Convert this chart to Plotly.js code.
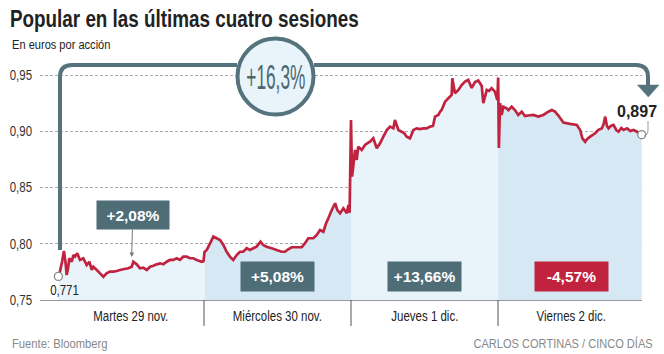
<!DOCTYPE html>
<html>
<head>
<meta charset="utf-8">
<script src="https://cdn.plot.ly/plotly-3.0.1.min.js"></script>
<style>
html,body{margin:0;padding:0;background:#fff;}
#chart{width:664px;height:354px;}
</style>
</head>
<body>
<div id="chart"></div>
<script>
// ---- DATA (hours of the session, price in euros) ----
const days = ['Martes 29 nov.', 'Miércoles 30 nov.', 'Jueves 1 dic.', 'Viernes 2 dic.'];
const dayChanges = ['+2,08%', '+5,08%', '+13,66%', '-4,57%'];
const totalChange = '+16,3%';
const firstLabel = '0,771';
const lastLabel = '0,897';
const yTickVals = [0.75, 0.80, 0.85, 0.90, 0.95];
const yTickText = ['0,75', '0,80', '0,85', '0,90', '0,95'];

const martesH = [9.08,9.17,9.29,9.40,9.49,9.56,9.64,9.71,9.85,9.95,10.04,10.17,10.33,10.52,10.72,10.87,11.01,11.10,11.30,11.49,11.68,11.87,12.06,12.26,12.45,12.64,12.83,13.12,13.32,13.41,13.61,13.80,13.99,14.19,14.38,14.57,14.76,14.96,15.15,15.34,15.53,15.72,15.92,16.11,16.30,16.50,16.69,16.88,17.08,17.37,17.47];
const martesP = [0.771,0.7752,0.7838,0.7936,0.7838,0.7722,0.7784,0.7871,0.7840,0.7900,0.7885,0.7915,0.7856,0.7871,0.7811,0.7840,0.7767,0.7796,0.7767,0.7737,0.7707,0.7737,0.7752,0.7752,0.7758,0.7767,0.7773,0.7782,0.7796,0.7840,0.7817,0.7782,0.7787,0.7767,0.7796,0.7805,0.7817,0.7826,0.7817,0.7840,0.7856,0.7856,0.7871,0.7856,0.7885,0.7885,0.7871,0.7871,0.7856,0.7840,0.7845];

const miercolesH = [9.03,9.16,9.35,9.54,9.73,9.93,10.12,10.31,10.50,10.69,10.89,11.08,11.27,11.47,11.66,11.85,12.04,12.27,12.42,12.62,12.91,13.20,13.49,13.68,13.87,14.07,14.36,14.65,14.84,15.03,15.32,15.52,15.71,15.90,16.06,16.19,16.39,16.58,16.71,16.87,17.06,17.26,17.35,17.42];
const miercolesP = [0.7927,0.7945,0.8004,0.8063,0.8049,0.8033,0.7989,0.7929,0.7885,0.7856,0.7900,0.7929,0.7929,0.7960,0.7945,0.7960,0.7974,0.8018,0.7989,0.7974,0.7960,0.7945,0.7929,0.7929,0.7951,0.7969,0.7969,0.7969,0.8004,0.8049,0.8049,0.8078,0.8122,0.8107,0.8182,0.8226,0.8300,0.8360,0.8300,0.8271,0.8315,0.8271,0.8345,0.8276];

const juevesH = [9.00,9.06,9.13,9.23,9.33,9.42,9.62,9.81,9.98,10.10,10.29,10.49,10.68,10.87,11.07,11.26,11.45,11.54,11.74,11.93,12.07,12.22,12.41,12.61,12.80,12.99,13.18,13.38,13.57,13.74,13.86,14.05,14.15,14.24,14.44,14.63,14.82,14.86,15.01,15.21,15.40,15.59,15.78,15.98,16.17,16.36,16.56,16.65,16.85,16.98,17.13,17.32,17.46];
const juevesP = [0.9100,0.8596,0.8685,0.8834,0.8745,0.8863,0.8834,0.8878,0.8896,0.8907,0.8937,0.8849,0.8893,0.8952,0.9011,0.9041,0.9026,0.9100,0.9011,0.8996,0.8985,0.8952,0.8937,0.9011,0.9026,0.9020,0.9026,0.9026,0.9041,0.9047,0.9130,0.9145,0.9174,0.9189,0.9263,0.9293,0.9322,0.9471,0.9337,0.9367,0.9411,0.9441,0.9456,0.9385,0.9438,0.9451,0.9402,0.9249,0.9367,0.9358,0.9382,0.9352,0.9278];

const viernesH = [9.01,9.05,9.12,9.21,9.31,9.50,9.60,9.79,9.98,10.17,10.37,10.56,10.75,11.04,11.33,11.62,11.91,12.11,12.30,12.49,12.78,13.17,13.56,13.75,13.88,14.04,14.16,14.33,14.62,14.79,15.01,15.11,15.20,15.30,15.39,15.52,15.68,15.84,15.97,16.13,16.26,16.46,16.65,16.84,17.04,17.13,17.31];
const viernesP = [0.9478,0.8851,0.9249,0.9145,0.9218,0.9204,0.9189,0.9218,0.9189,0.9145,0.9174,0.9136,0.9140,0.9145,0.9130,0.9145,0.9174,0.9189,0.9174,0.9140,0.9078,0.9065,0.9056,0.9011,0.8937,0.8907,0.8931,0.8952,0.8982,0.9011,0.9026,0.9065,0.9130,0.9047,0.9026,0.9047,0.9056,0.9011,0.8996,0.9029,0.9011,0.9026,0.9002,0.9011,0.8996,0.8982,0.8970];

// ---- BUILD ----
const OPEN = 9, SESSION = 8.5;
const sessions = [[martesH, martesP], [miercolesH, miercolesP], [juevesH, juevesP], [viernesH, viernesP]];
const dayX = sessions.map((s, d) => s[0].slice(0, Math.min(s[0].length, s[1].length)).map(h => d + (h - OPEN) / SESSION));
const dayY = sessions.map((s, d) => s[1].slice(0, dayX[d].length));

const fillColors = ['#e9f3fa', '#d5e8f4', '#e9f3fa', '#d5e8f4'];
const lineColor = '#c0233f';
const slate = '#55737d';
const boxColor = '#4f6d77';
const SANS = '"Liberation Sans", Arial, Helvetica, sans-serif';
const CONDENSE = 0.82;   // horizontal squeeze to mimic a narrow face

const traces = [];
dayX.forEach((xs, d) => {
  const fx = xs.slice(), fy = dayY[d].slice();
  if (d < dayX.length - 1) { fx.push(dayX[d + 1][0]); fy.push(dayY[d + 1][0]); }
  traces.push({x: fx, y: fy, type: 'scatter', mode: 'lines', fill: 'tozeroy',
    fillcolor: fillColors[d], line: {width: 0, color: fillColors[d]}, hoverinfo: 'skip'});
});
const allX = [].concat(...dayX), allY = [].concat(...dayY);
traces.push({x: allX, y: allY, type: 'scatter', mode: 'lines',
  line: {color: lineColor, width: 2.7, simplify: false}, hoverinfo: 'skip'});
traces.push({x: [allX[0], allX[allX.length - 1]], y: [allY[0], allY[allY.length - 1]],
  type: 'scatter', mode: 'markers', cliponaxis: false,
  marker: {size: 8, color: '#fff', line: {color: '#888', width: 1.3}}, hoverinfo: 'skip'});

// pixel helpers for layout decorations (plot area 40..642 x 52..300)
const PL = 40, PR = 642, PT = 52, PB = 300;
const xp = px => (px - PL) / (PR - PL);
const yp = py => (PB - py) / (PB - PT);
const P = (px, py) => xp(px).toFixed(5) + ',' + yp(py).toFixed(5);

const shapes = [
  {type: 'path', xref: 'paper', yref: 'paper', layer: 'above',
   path: `M${P(60,250)} L${P(60,77)} Q${P(60,65)} ${P(72,65)} L${P(237,65)}`,
   line: {color: slate, width: 4}},
  {type: 'path', xref: 'paper', yref: 'paper', layer: 'above',
   path: `M${P(314,65)} L${P(636,65)} Q${P(648,65)} ${P(648,77)} L${P(648,86)}`,
   line: {color: slate, width: 4}},
  {type: 'path', xref: 'paper', yref: 'paper', layer: 'above',
   path: `M${P(637.5,85)} L${P(659,85)} L${P(648.3,97)} Z`,
   fillcolor: slate, line: {color: slate, width: 0.5}},
  {type: 'circle', xref: 'paper', yref: 'paper', layer: 'above',
   x0: xp(237.5), x1: xp(313.5), y0: yp(114.5), y1: yp(38.5),
   fillcolor: '#e8f3fa', line: {color: slate, width: 4}},
  {type: 'path', xref: 'paper', yref: 'paper', layer: 'above',
   path: `M${P(648,121)} L${P(648,130)} Q${P(648,135)} ${P(644,136)}`,
   line: {color: '#999', width: 1}}
];
[1, 2, 3].forEach(v => shapes.push({type: 'line', xref: 'x', yref: 'paper',
  x0: v, x1: v, y0: yp(300), y1: yp(326), line: {color: '#555', width: 1}}));

// squeeze: horizontal scale factor applied after rendering (null = none, number = factor, {w} = target width)
const annotations = [], squeeze = [];
function addAnn(a, sq) { annotations.push(a); squeeze.push(sq || null); }

addAnn({text: 'En euros por acción', xref: 'paper', yref: 'paper', x: xp(10), y: yp(44),
  xanchor: 'left', yanchor: 'middle', showarrow: false, font: {family: SANS, size: 13.5, color: '#222'}}, CONDENSE);
addAnn({text: 'Fuente: Bloomberg', xref: 'paper', yref: 'paper', x: xp(10), y: yp(343),
  xanchor: 'left', yanchor: 'middle', showarrow: false, font: {family: SANS, size: 13.7, color: '#888'}}, CONDENSE);
addAnn({text: 'CARLOS CORTINAS / CINCO DÍAS', xref: 'paper', yref: 'paper', x: xp(655), y: yp(343),
  xanchor: 'right', yanchor: 'middle', showarrow: false, font: {family: SANS, size: 13.5, color: '#888'}}, CONDENSE);
addAnn({text: totalChange, xref: 'paper', yref: 'paper', x: xp(276), y: yp(76.5),
  xanchor: 'center', yanchor: 'middle', showarrow: false, font: {family: SANS, size: 35, color: '#4a6872'}}, {w: 59});
addAnn({text: firstLabel, xref: 'paper', yref: 'paper', x: xp(64), y: yp(290),
  xanchor: 'center', yanchor: 'middle', showarrow: false, font: {family: SANS, size: 14, color: '#222'}}, CONDENSE);
addAnn({text: '<b>' + lastLabel + '</b>', xref: 'paper', yref: 'paper', x: xp(637), y: yp(111),
  xanchor: 'center', yanchor: 'middle', showarrow: false, font: {family: SANS, size: 16, color: '#222'}});
days.forEach((d, i) => addAnn({text: d, xref: 'x', yref: 'paper', x: i + 0.5, y: yp(316),
  xanchor: 'center', yanchor: 'middle', showarrow: false, font: {family: SANS, size: 14, color: '#222'}}, CONDENSE));
dayChanges.forEach((c, i) => {
  const a = {text: '<b>' + c + '</b>', xref: 'x', yref: 'paper', xanchor: 'center', yanchor: 'middle',
    width: 70, height: 26, bgcolor: c.startsWith('-') ? '#c1223e' : boxColor,
    font: {family: SANS, size: 15.5, color: '#fff'}};
  if (i === 0) {
    Object.assign(a, {x: (13.32 - OPEN) / SESSION, y: 0.7882, yref: 'y', showarrow: true,
      ax: 1, ay: -42, arrowhead: 2, arrowsize: 0.9, arrowwidth: 1, arrowcolor: '#777', standoff: 0});
  } else {
    Object.assign(a, {x: i + 0.5, y: yp(276.5), showarrow: false, width: 71, height: 27});
  }
  addAnn(a);
});

const layout = {
  width: 664, height: 354,
  margin: {l: PL, r: 664 - PR, t: PT, b: 354 - PB, pad: 0},
  paper_bgcolor: '#fff', plot_bgcolor: '#fff',
  showlegend: false, hovermode: false,
  title: {text: '<b>Popular en las últimas cuatro sesiones</b>', xref: 'container', yref: 'container',
    x: 10 / 664, xanchor: 'left', y: 1 - 19 / 354, yanchor: 'middle',
    font: {family: SANS, size: 23, color: '#222'}},
  xaxis: {range: [(PL - 57) / 147, (PR - 57) / 147], showgrid: false, zeroline: false,
    showline: true, linecolor: '#999', linewidth: 1, tickvals: [], fixedrange: true},
  yaxis: {range: [0.75, 0.75 + (PB - PT) / 1125], tickvals: yTickVals, ticktext: yTickText,
    showgrid: true, gridcolor: '#aaa', griddash: '3px,2px', gridwidth: 1, zeroline: false,
    showline: false, ticks: '', ticklabelstandoff: 7,
    tickfont: {family: SANS, size: 14, color: '#333'}, fixedrange: true},
  shapes: shapes, annotations: annotations
};

function squeezeText(t, anchor, sq) {
  const bb = t.getBBox();
  if (!bb.width) return;
  const s = typeof sq === 'number' ? sq : sq.w / bb.width;
  let ox = bb.x + bb.width / 2;
  if (anchor === 'left' || anchor === 'start') ox = bb.x;
  if (anchor === 'right' || anchor === 'end') ox = bb.x + bb.width;
  const prev = t.getAttribute('transform') || '';
  t.setAttribute('transform', prev + ` translate(${ox},0) scale(${s},1) translate(${-ox},0)`);
}

Plotly.newPlot('chart', traces, layout, {staticPlot: true, displayModeBar: false}).then(() => {
  document.querySelectorAll('.annotation').forEach(g => {
    const i = +g.getAttribute('data-index');
    const sq = squeeze[i];
    if (!sq) return;
    const t = g.querySelector('.annotation-text');
    if (t) squeezeText(t, annotations[i].xanchor, sq);
  });
  const title = document.querySelector('.gtitle');
  if (title) squeezeText(title, 'left', CONDENSE);
  document.querySelectorAll('.ytick text').forEach(t => squeezeText(t, 'right', CONDENSE));
});
</script>
</body>
</html>
